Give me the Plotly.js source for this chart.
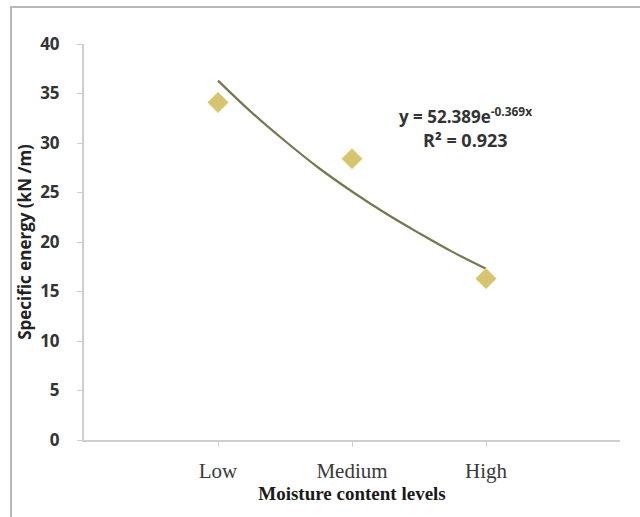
<!DOCTYPE html>
<html>
<head>
<meta charset="utf-8">
<script src="https://cdn.plot.ly/plotly-3.0.1.min.js"></script>
<style>html,body{margin:0;padding:0;background:#fff;}#chart{width:640px;height:517px;}</style>
</head>
<body>
<div id="chart"></div>
<script>
// Data
const categories = ['Low', 'Medium', 'High'];
const categoryPos = [1, 2, 3];
const specificEnergy = [34.1, 28.4, 16.3];
// Trendline values (y = 52.389e^-0.369x)
const trendX = [1, 1.25, 1.5, 1.75, 2, 2.25, 2.5, 2.75, 3];
const trendY = [36.3, 33.1, 30.2, 27.5, 25.1, 22.9, 20.9, 19.0, 17.3];
const yTicks = [0, 5, 10, 15, 20, 25, 30, 35, 40];

const sans = 'Open Sans, Noto Sans, sans-serif';
const serif = 'Liberation Serif, Times New Roman, serif';

const traces = [
  {
    x: trendX, y: trendY, type: 'scatter', mode: 'lines',
    line: {color: '#77784f', width: 2.2, shape: 'spline'},
    hoverinfo: 'skip', showlegend: false
  },
  {
    x: categoryPos, y: specificEnergy, type: 'scatter', mode: 'markers',
    marker: {symbol: 'diamond', size: 16, color: '#d6c56e', line: {color: '#ebe0a6', width: 1}},
    showlegend: false
  }
];

const layout = {
  width: 640, height: 517,
  margin: {l: 84, r: 20, t: 44, b: 77},
  paper_bgcolor: '#ffffff', plot_bgcolor: '#ffffff',
  showlegend: false,
  xaxis: {
    range: [0, 4], tickmode: 'array', tickvals: categoryPos, ticktext: categories,
    showgrid: false, zeroline: false, showline: true, linecolor: '#cfcfcf', linewidth: 2,
    ticks: 'outside', ticklen: 5, tickcolor: '#cfcfcf', ticklabelstandoff: 6,
    tickfont: {family: serif, size: 21, color: '#3a3a3a'},
    title: {text: '<b>Moisture content levels</b>', standoff: 4,
      font: {family: serif, size: 19, color: '#1a1a1a'}}
  },
  yaxis: {
    range: [0, 40], tickmode: 'array', tickvals: yTicks,
    showgrid: false, zeroline: false, showline: true, linecolor: '#cfcfcf', linewidth: 2,
    ticks: 'outside', ticklen: 5, tickcolor: '#cfcfcf', ticklabelstandoff: 14,
    tickfont: {family: sans, size: 17, color: '#333333', weight: 'bold'},
    title: {text: '<b>Specific energy (kN /m)</b>', standoff: 4,
      font: {family: sans, size: 17, color: '#222222'}}
  },
  annotations: [
    {xref: 'paper', yref: 'paper', x: (465 - 84) / 536, y: (440 - 115) / 396,
     xanchor: 'center', yanchor: 'middle',
     text: '<b>y = 52.389e<sup>-0.369x</sup></b>', showarrow: false,
     font: {family: sans, size: 17, color: '#333333'}},
    {xref: 'paper', yref: 'paper', x: (465 - 84) / 536, y: (440 - 140) / 396,
     xanchor: 'center', yanchor: 'middle',
     text: '<b>R² = 0.923</b>', showarrow: false,
     font: {family: sans, size: 18, color: '#333333'}}
  ],
  shapes: [
    {type: 'rect', xref: 'paper', yref: 'paper', layer: 'above',
     x0: (11 - 84) / 536, x1: (645 - 84) / 536, y0: (440 - 530) / 396, y1: (440 - 7) / 396,
     line: {color: '#b8b8b8', width: 2}, fillcolor: 'rgba(0,0,0,0)'}
  ]
};

Plotly.newPlot('chart', traces, layout, {displayModeBar: false, staticPlot: true});
</script>
</body>
</html>
